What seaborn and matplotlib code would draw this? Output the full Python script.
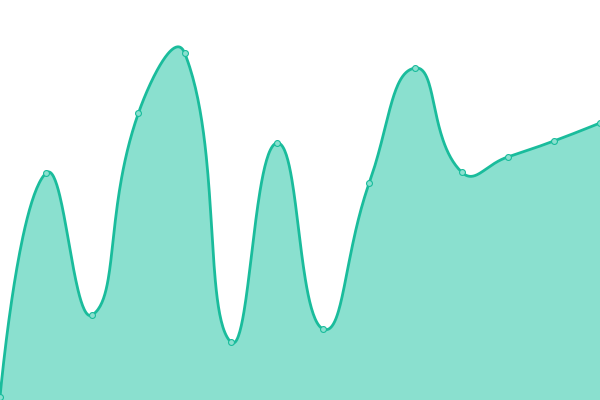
import numpy as np
import pandas as pd
import seaborn as sns
import matplotlib
matplotlib.use("Agg")
import matplotlib.pyplot as plt

# values (0..400 scale)
idx = list(range(14))
values = [3, 227, 85, 287, 347, 58, 257, 71, 217, 332, 228, 243, 259, 277]

line_color = "#1abc9c"
fill_color = "#8ae0cf"
smoothness = 0.5

# bezier smoothing, control points weighted by pixel distance
step = 600 / 13
pts = np.column_stack([np.array(idx) * step, np.array(values, dtype=float)])
n = len(pts)
cp_in = pts.copy()
cp_out = pts.copy()
for i in range(1, n - 1):
    v = (pts[i + 1] - pts[i - 1]) * smoothness
    d0 = np.linalg.norm(pts[i] - pts[i - 1])
    d1 = np.linalg.norm(pts[i + 1] - pts[i])
    cp_in[i] = pts[i] - v * d0 / (d0 + d1)
    cp_out[i] = pts[i] + v * d1 / (d0 + d1)

curve = []
t = np.linspace(0, 1, 60, endpoint=False)[:, None]
for i in range(n - 1):
    p0, p1, p2, p3 = pts[i], cp_out[i], cp_in[i + 1], pts[i + 1]
    seg = (1 - t)**3 * p0 + 3 * (1 - t)**2 * t * p1 + 3 * (1 - t) * t**2 * p2 + t**3 * p3
    curve.append(seg)
curve.append(pts[-1:])
curve = np.vstack(curve)
smooth = pd.DataFrame({"x": curve[:, 0] / step, "y": curve[:, 1]})
points = pd.DataFrame({"x": idx, "y": values})

sns.set_style("white")
fig = plt.figure(figsize=(6, 4), dpi=100)
ax = fig.add_axes([0, 0, 1, 1])
ax.fill_between(smooth["x"], smooth["y"], 0, color=fill_color, lw=0)
sns.lineplot(data=smooth, x="x", y="y", ax=ax, color=line_color, lw=2.0,
             sort=False, estimator=None)
sns.scatterplot(data=points, x="x", y="y", ax=ax, s=18, color=fill_color,
                edgecolor=line_color, linewidth=0.8, zorder=5, clip_on=False)
ax.set_xlim(0, 13)
ax.set_ylim(0, 400)
ax.axis("off")
plt.savefig("out.png", dpi=100)
